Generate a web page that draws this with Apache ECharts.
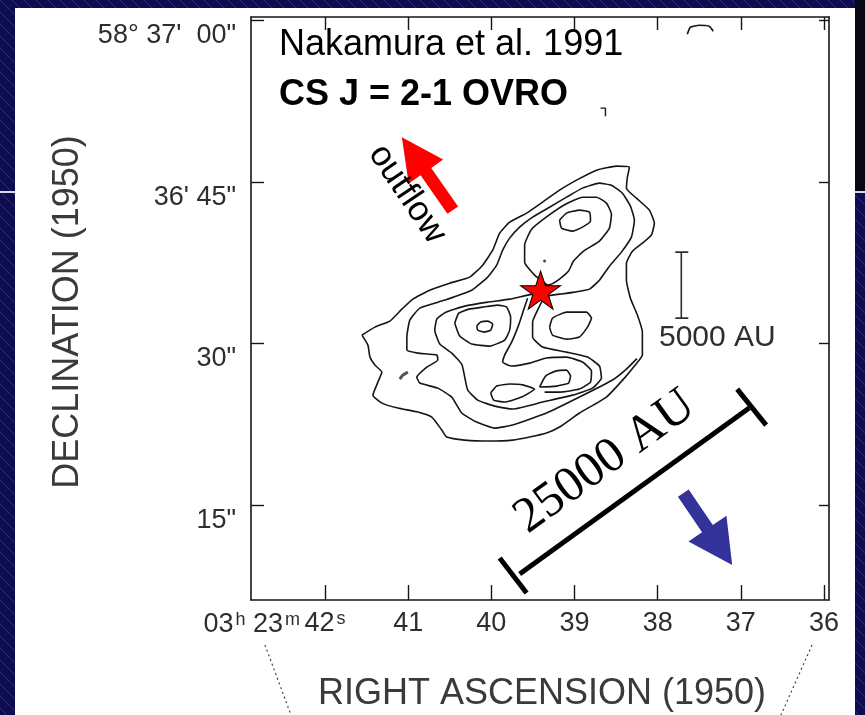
<!DOCTYPE html>
<html><head><meta charset="utf-8">
<script src="https://cdn.jsdelivr.net/npm/echarts@6/dist/echarts.min.js"></script>
<style>html,body{margin:0;padding:0;background:#0c0c4e;}#c{width:865px;height:715px;}</style>
</head><body><div id="c"></div>
<script>
// ---- axes (RA in seconds of 03h23m, Dec in arcsec after 58°36') ----
const raMin = 35.94, raMax = 42.89, decMin = 6.2, decMax = 60.3;
const raTicks = [42, 41, 40, 39, 38, 37, 36];
const raTickLabels = ['42', '41', '40', '39', '38', '37', '36'];
const raLabelPrefix = ['03', 'h', '23', 'm'];
const decTicks = [60, 45, 30, 15];
const decTickLabels = ["58° 37'  00\"", "36' 45\"", "30\"", "15\""];

// ---- CS J=2-1 contours [RA s, Dec "] ----
const contourOuter = [[41.556,30.78],[41.400,31.52],[41.220,32.08],[41.076,33.19],[40.944,34.12],[40.740,34.95],[40.500,35.60],[40.260,36.16],[40.104,37.27],[39.984,38.66],[39.900,40.24],[39.780,41.26],[39.576,42.10],[39.384,43.12],[39.180,44.23],[38.976,45.16],[38.736,46.09],[38.496,46.46],[38.340,46.36],[38.364,45.44],[38.376,44.42],[38.256,43.49],[38.100,42.38],[38.040,41.17],[38.076,40.06],[38.184,39.31],[38.304,38.57],[38.376,37.46],[38.376,35.88],[38.328,34.21],[38.244,32.64],[38.184,31.06],[38.184,28.93],[38.280,27.91],[38.400,26.79],[38.616,25.03],[38.940,23.55],[39.180,22.25],[39.336,21.69],[39.540,21.32],[39.744,21.04],[40.020,20.95],[40.320,21.04],[40.536,21.32],[40.596,21.97],[40.716,23.17],[40.884,23.64],[41.124,24.01],[41.316,24.47],[41.424,25.21],[41.364,26.42],[41.316,27.35],[41.400,28.00],[41.460,28.74],[41.484,29.85],[41.556,30.78]];
const contour2 = [[39.360,34.40],[39.180,34.58],[39.000,34.77],[38.820,35.05],[38.700,35.88],[38.580,37.18],[38.436,38.48],[38.316,39.87],[38.280,41.45],[38.328,42.75],[38.424,43.95],[38.556,44.69],[38.700,44.88],[38.904,44.42],[39.096,43.58],[39.300,42.65],[39.504,41.73],[39.660,40.80],[39.780,39.78],[39.864,38.66],[39.936,37.27],[40.044,36.16],[40.236,34.95],[40.560,34.03],[40.860,33.29],[40.980,32.17],[41.016,30.60],[41.016,29.39],[40.884,29.11],[40.656,28.93],[40.644,28.46],[40.776,27.81],[40.896,26.88],[40.860,26.33],[40.644,25.86],[40.476,25.03],[40.356,23.55],[40.176,22.71],[39.960,22.15],[39.744,22.43],[39.336,23.55],[38.940,25.03],[38.544,26.61],[38.376,27.63],[38.250,28.60]];
const contourNorth3 = [[39.324,35.42],[39.480,36.35],[39.600,37.55],[39.600,39.13],[39.516,40.61],[39.324,41.82],[39.108,42.93],[38.904,43.58],[38.736,43.58],[38.616,43.03],[38.556,42.00],[38.580,40.71],[38.700,39.50],[38.892,38.57],[39.012,37.65],[39.072,36.72],[39.180,35.98],[39.276,35.51],[39.324,35.42]];
const contourNorth4 = [[39.180,41.45],[39.096,42.10],[38.940,42.38],[38.820,42.19],[38.808,41.36],[38.904,40.80],[39.024,40.43],[39.156,40.71],[39.180,41.45]];
const contour3 = [[39.384,34.03],[39.444,33.10],[39.504,31.99],[39.504,30.60],[39.384,29.67],[39.096,29.20],[38.844,28.74],[38.700,27.91],[38.676,26.79],[38.784,25.86],[39.024,25.21],[39.384,24.57],[39.744,23.92],[39.960,24.19],[40.164,24.75],[40.284,25.68],[40.320,26.88],[40.356,28.09],[40.476,29.11],[40.620,29.95],[40.680,31.24],[40.656,32.27],[40.548,32.91],[40.320,33.47],[40.044,33.84],[39.780,34.12],[39.564,34.49],[39.420,34.68]];
const contourWest4 = [[40.440,31.89],[40.392,32.82],[40.272,33.19],[40.104,33.38],[39.924,33.56],[39.816,33.38],[39.768,32.45],[39.780,31.24],[39.840,30.32],[40.020,29.76],[40.236,29.95],[40.380,30.69],[40.440,31.89]];
const contourWest5 = [[40.176,31.62],[40.128,31.99],[40.044,32.08],[39.984,31.80],[40.008,31.24],[40.092,31.06],[40.164,31.24],[40.176,31.62]];
const contourSouth4 = [[39.564,34.21],[39.612,33.10],[39.672,31.71],[39.756,30.13],[39.840,28.93],[39.864,28.28],[39.756,27.91],[39.540,28.18],[39.336,28.65],[39.096,28.74],[38.904,28.28],[38.796,27.44],[38.808,26.42],[38.940,25.77],[39.180,25.49],[39.360,25.49]];
const contourSouthE5 = [[39.420,25.96],[39.348,26.98],[39.228,27.44],[39.096,27.53],[39.048,26.98],[39.072,26.33],[39.216,26.05],[39.420,25.96]];
const contourSouthW5 = [[40.008,25.40],[39.936,26.05],[39.780,26.24],[39.612,26.14],[39.480,25.77],[39.636,25.03],[39.840,24.57],[39.972,24.75],[40.008,25.40]];
const contourEast4 = [[39.300,31.52],[39.264,32.36],[39.096,32.91],[38.856,32.91],[38.796,32.36],[38.844,31.52],[38.940,30.60],[39.096,30.41],[39.264,30.78],[39.300,31.52]];
const scanBlob = [[41.100,26.70],[41.064,27.07],[41.004,27.35]];
const scanTop = [[37.644,58.70],[37.608,59.35],[37.500,59.54],[37.380,59.44],[37.332,58.98]];
const scanMid = [[38.688,51.84],[38.628,51.84],[38.628,51.10]];
const scanDot = [[39.360,37.65]];

// ---- annotations in map coordinates ----
const starPos = [[39.408, 34.95]];
const outflowArrow = [[40.464, 42.38, 41.076, 49.15]];
const blueArrow = [[37.692, 16.12, 37.104, 9.45]];
const bar25000 = [[39.660, 8.61], [36.900, 24.01]];
const bar25000CapA = [[39.900, 10.09], [39.576, 6.85]];
const bar25000CapB = [[37.044, 25.77], [36.696, 22.43]];
const bar5000 = [[37.716, 38.48], [37.716, 32.36]];
const bar5000CapA = [[37.788, 38.48], [37.632, 38.48]];
const bar5000CapB = [[37.788, 32.36], [37.632, 32.36]];

const INK = '#161616', GREY = '#2e2e2e';
const FONT = '"Liberation Sans", Arial, sans-serif';

function hatch(bg, line) {
  const c = document.createElement('canvas'); c.width = 12; c.height = 12;
  const g = c.getContext('2d'); g.fillStyle = bg; g.fillRect(0, 0, 12, 12);
  g.strokeStyle = line; g.lineWidth = 1; g.beginPath(); g.moveTo(-2, -2); g.lineTo(14, 14); g.stroke();
  return c;
}
function lineSeries(data, color, width, z) {
  return { type: 'line', data: data, showSymbol: false, symbol: 'none', silent: true, z: z || 3,
    smooth: 0.15, lineStyle: { color: color || INK, width: width || 1.6 }, animation: false };
}
function straight(data, color, width, z) {
  return { type: 'line', data: data, showSymbol: false, symbol: 'none', silent: true, z: z || 6,
    lineStyle: { color: color, width: width, cap: 'butt' }, animation: false };
}
function makeArrow(color, shaftW, headL, headW) {
  return function (params, api) {
    const a = api.coord([api.value(0), api.value(1)]), b = api.coord([api.value(2), api.value(3)]);
    const dx = b[0] - a[0], dy = b[1] - a[1], L = Math.hypot(dx, dy), ux = dx / L, uy = dy / L, px = -uy, py = ux;
    const bx = b[0] - ux * headL, by = b[1] - uy * headL;
    const pts = [[a[0] + px * shaftW / 2, a[1] + py * shaftW / 2], [bx + px * shaftW / 2, by + py * shaftW / 2],
      [bx + px * headW / 2, by + py * headW / 2], [b[0], b[1]], [bx - px * headW / 2, by - py * headW / 2],
      [bx - px * shaftW / 2, by - py * shaftW / 2], [a[0] - px * shaftW / 2, a[1] - py * shaftW / 2]];
    return { type: 'polygon', shape: { points: pts }, style: { fill: color } };
  };
}

const chart = echarts.init(document.getElementById('c'), null, { renderer: 'canvas' });
const axisCommon = { type: 'value', min: raMin, max: raMax, inverse: true, splitLine: { show: false },
  axisLine: { lineStyle: { color: INK, width: 1.6 } } };
const decCommon = { type: 'value', min: decMin, max: decMax, splitLine: { show: false },
  axisLine: { lineStyle: { color: INK, width: 1.6 } } };

const option = {
  backgroundColor: '#0c0c4e',
  animation: false,
  grid: { left: 251, right: 36, top: 17, bottom: 115, containLabel: false },
  xAxis: [
    Object.assign({}, axisCommon, { position: 'bottom', z: 5,
      axisTick: { inside: true, length: 15, customValues: raTicks, lineStyle: { color: INK, width: 1.4 } },
      axisLabel: { customValues: raTicks, margin: 10, color: GREY, fontSize: 27, fontFamily: FONT,
        formatter: function (v) { const i = raTicks.indexOf(Math.round(v)); const t = raTickLabels[i];
          return i === 0 ? '{n|' + t + '}{sup|s}' : '{n|' + t + '}'; },
        rich: { n: { fontSize: 27, color: GREY, fontFamily: FONT },
                sup: { fontSize: 18, color: GREY, fontFamily: FONT, verticalAlign: 'top', padding: [0, 0, 0, 2] } } } }),
    Object.assign({}, axisCommon, { position: 'top', z: 5,
      axisTick: { inside: true, length: 13, customValues: raTicks, lineStyle: { color: INK, width: 1.4 } },
      axisLabel: { show: false } })
  ],
  yAxis: [
    Object.assign({}, decCommon, { position: 'left', z: 5,
      axisTick: { inside: true, length: 13, customValues: decTicks, lineStyle: { color: INK, width: 1.4 } },
      axisLabel: { customValues: decTicks, margin: 15, color: GREY, fontSize: 27, fontFamily: FONT,
        verticalAlign: 'top', padding: [2, 0, 0, 0],
        formatter: function (v) { return decTickLabels[decTicks.indexOf(Math.round(v))]; } } }),
    Object.assign({}, decCommon, { position: 'right', z: 5,
      axisTick: { inside: true, length: 10, customValues: decTicks, lineStyle: { color: INK, width: 1.4 } },
      axisLabel: { show: false } })
  ],
  series: [
    lineSeries(contourOuter), lineSeries(contour2), lineSeries(contourNorth3), lineSeries(contourNorth4),
    lineSeries(contour3), lineSeries(contourWest4), lineSeries(contourWest5), lineSeries(contourSouth4),
    lineSeries(contourSouthE5), lineSeries(contourSouthW5), lineSeries(contourEast4),
    lineSeries(scanBlob, '#555', 3), lineSeries(scanTop, INK, 1.6), lineSeries(scanMid, INK, 1.4),
    { type: 'scatter', data: scanDot, symbol: 'circle', symbolSize: 3, itemStyle: { color: INK }, silent: true, z: 4 },
    straight(bar5000, GREY, 1.6), straight(bar5000CapA, GREY, 1.6), straight(bar5000CapB, GREY, 1.6),
    straight(bar25000, '#000', 5), straight(bar25000CapA, '#000', 5), straight(bar25000CapB, '#000', 5),
    { type: 'custom', coordinateSystem: 'cartesian2d', data: outflowArrow, encode: { x: [0, 2], y: [1, 3] },
      renderItem: makeArrow('#ff0000', 13, 42, 42), z: 8, silent: true },
    { type: 'custom', coordinateSystem: 'cartesian2d', data: blueArrow, encode: { x: [0, 2], y: [1, 3] },
      renderItem: makeArrow('#333399', 13, 44, 46), z: 8, silent: true },
    { type: 'scatter', data: starPos, z: 10, silent: true,
      symbol: 'path://M50,0 L61.8,35.1 L98.8,35.1 L68.9,56.9 L80.2,91.9 L50,70.2 L19.8,91.9 L31.1,56.9 L1.2,35.1 L38.2,35.1 Z',
      symbolSize: [40, 38], itemStyle: { color: '#ff0000', opacity: 1, borderColor: '#000', borderWidth: 1 } }
  ],
  graphic: { elements: [
    { type: 'rect', z: -100, silent: true, shape: { x: 0, y: 0, width: 865, height: 715 },
      style: { fill: { image: hatch('#0c0c4e', '#2d2d7c'), repeat: 'repeat' } } },
    { type: 'rect', z: -99, silent: true, shape: { x: 855, y: 0, width: 10, height: 192 },
      style: { fill: '#070716' } },
    { type: 'rect', z: -99, silent: true, shape: { x: 0, y: 191, width: 15, height: 2 }, style: { fill: '#d8d8e8' } },
    { type: 'rect', z: -99, silent: true, shape: { x: 855, y: 191, width: 10, height: 2 }, style: { fill: '#d8d8e8' } },
    { type: 'rect', z: -98, silent: true, shape: { x: 15, y: 8, width: 840, height: 707 }, style: { fill: '#ffffff' } },
    { type: 'text', z: 50, silent: true, x: 279, y: 45,
      style: { text: 'Nakamura et al. 1991', fontSize: 36, fontFamily: FONT, fill: '#000', verticalAlign: 'middle' } },
    { type: 'text', z: 50, silent: true, x: 279, y: 95,
      style: { text: 'CS J = 2-1 OVRO', fontSize: 36, fontWeight: 'bold', fontFamily: FONT, fill: '#000', verticalAlign: 'middle' } },
    { type: 'text', z: 50, silent: true, x: 407, y: 194, rotation: -0.977,
      style: { text: 'outflow', fontSize: 35, fontFamily: FONT, fill: '#000', align: 'center', verticalAlign: 'middle' } },
    { type: 'text', z: 50, silent: true, x: 605, y: 462, rotation: 0.625,
      style: { text: '25000 AU', fontSize: 50, fontFamily: '"Liberation Serif", "Times New Roman", serif', fill: '#000', align: 'center', verticalAlign: 'middle' } },
    { type: 'text', z: 50, silent: true, x: 659, y: 338,
      style: { text: '5000 AU', fontSize: 30, fontFamily: FONT, fill: GREY, verticalAlign: 'middle' } },
    { type: 'text', z: 50, silent: true, x: 300, y: 625,
      style: { text: '{n|' + raLabelPrefix[0] + '}{sup|' + raLabelPrefix[1] + '}{n| ' + raLabelPrefix[2] + '}{sup|' + raLabelPrefix[3] + '}',
        align: 'right', verticalAlign: 'middle',
        rich: { n: { fontSize: 27, fill: GREY, fontFamily: FONT },
                sup: { fontSize: 18, fill: GREY, fontFamily: FONT, verticalAlign: 'top', padding: [0, 0, 0, 2] } } } },
    { type: 'text', z: 50, silent: true, x: 68, y: 312, rotation: Math.PI / 2,
      style: { text: 'DECLINATION (1950)', fontSize: 36, fontFamily: FONT, fill: '#3a3a3a', align: 'center', verticalAlign: 'middle' } },
    { type: 'text', z: 50, silent: true, x: 542, y: 694,
      style: { text: 'RIGHT ASCENSION (1950)', fontSize: 36, fontFamily: FONT, fill: '#3a3a3a', align: 'center', verticalAlign: 'middle' } },
    { type: 'line', z: 50, silent: true, shape: { x1: 265, y1: 645, x2: 291, y2: 715 },
      style: { stroke: '#444', lineWidth: 1.2, lineDash: [2, 3] } },
    { type: 'line', z: 50, silent: true, shape: { x1: 812, y1: 645, x2: 781, y2: 715 },
      style: { stroke: '#444', lineWidth: 1.2, lineDash: [2, 3] } }
  ] }
};
chart.setOption(option);
</script></body></html>
